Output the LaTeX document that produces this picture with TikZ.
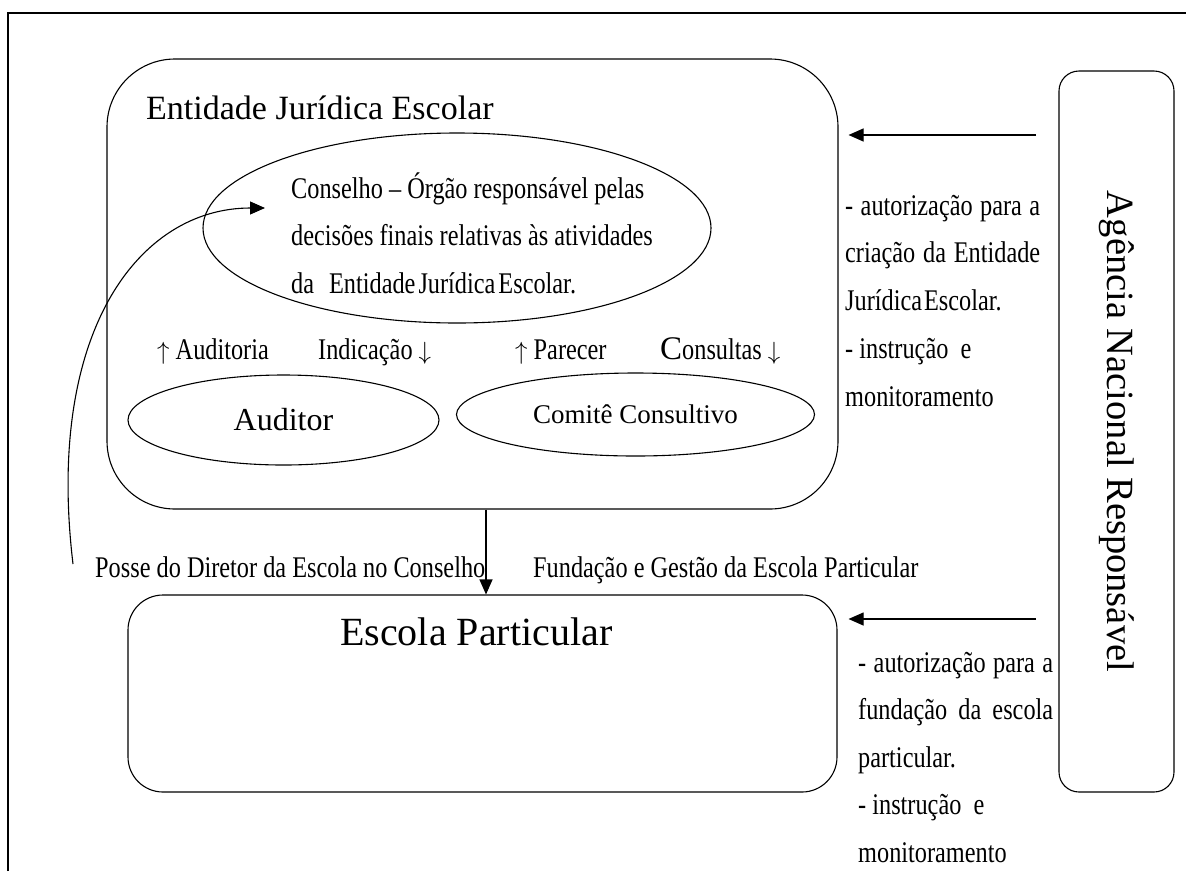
\documentclass[tikz,border=0pt]{standalone}
\usepackage{fontspec}
\setmainfont{Liberation Serif}
\newfontfamily\condfont[FakeStretch=0.81]{Liberation Serif}
\usetikzlibrary{shapes.geometric,arrows.meta}

\tikzset{
  box/.style={draw, line width=1.1pt, rounded corners=#1, inner sep=0pt},
  oval/.style={draw, ellipse, line width=1.1pt, inner sep=0pt},
  lbl/.style={anchor=base west, inner sep=0pt, font=\condfont\fontsize{30}{32}\selectfont},
  big/.style={inner sep=0pt, font=\fontsize{#1}{#1}\selectfont},
  arr/.style={-{Triangle[length=15pt,width=13pt]}, line width=1.1pt},
}

\begin{document}
\begin{tikzpicture}[x=1pt,y=-1pt]
\useasboundingbox (0,0) rectangle (1186,871);
\draw[line width=1.3pt] (8,871) |- (1186,13);

% upper block
\node[box=68pt, minimum width=731pt, minimum height=450pt] (entidade) at (472.5,284) {};
\node[big=34, anchor=base west] (entidadetit) at (146,119) {Entidade Jurídica Escolar};
\node[oval, minimum width=508pt, minimum height=190pt] (conselho) at (457,228) {};
\foreach \t [count=\i from 0] in {{Conselho – Órgão responsável pelas},
    {decisões finais relativas às atividades},
    {da\hspace{15pt}Entidade\hspace{3pt}Jurídica\hspace{3pt}Escolar.}}
  \node[lbl] (cons\i) at (291, 198+47.5*\i) {\t};

\node[lbl] (auditoria) at (157,359) {$\uparrow$ Auditoria};
\node[lbl] (indicacao) at (318,359) {Indicação $\downarrow$};
\node[lbl] (parecer) at (515,359) {$\uparrow$ Parecer};
\node[lbl] (consultas) at (660,359) {{\rmfamily\fontsize{33}{33}\selectfont C}onsultas $\downarrow$};
\node[oval, big=32, minimum width=311pt, minimum height=90pt] (auditor) at (283.5,420) {Auditor};
\node[oval, big=27, minimum width=358pt, minimum height=83pt] (comite) at (635.5,414.5) {Comitê Consultivo};

% lower block
\node[box=35pt, minimum width=709pt, minimum height=197pt] (escola) at (482.5,693.5) {};
\node[big=40, anchor=base west] (escolatit) at (340,645) {Escola Particular};
\node[lbl] (posse) at (95,577) {Posse do Diretor da Escola no Conselho};
\node[lbl] (fundacao) at (533,577) {Fundação e Gestão da Escola Particular};

% agency
\node[box=20pt, minimum width=115pt, minimum height=721pt] (agencia) at (1116.5,431.5) {};
\node[big=38.5, rotate=-90] (agenciatxt) at (agencia) {Agência Nacional Responsável};

\foreach \t [count=\i from 0] in {{\makebox[195pt][s]{- autorização para a}},
    {\makebox[195pt][s]{criação da Entidade}},
    {Jurídica\hspace{2pt}Escolar.}, {- instrução\ \ e}, {monitoramento}}
  \node[lbl] (autent\i) at (845, 215+47.8*\i) {\t};
\foreach \t [count=\i from 0] in {{\makebox[195pt][s]{- autorização para a}},
    {\makebox[195pt][s]{fundação da escola}},
    {particular.}, {- instrução\ \ e}, {monitoramento}}
  \node[lbl] (autesc\i) at (858, 672+47.5*\i) {\t};

% connectors
\coordinate (agtop) at (1036,135);
\coordinate (agbot) at (1036,619);
\coordinate (possestart) at (73,564);
\coordinate (consin) at (265,208);
\draw[arr, shorten >=10pt] (agtop) -- (agtop -| entidade.east);
\draw[arr, shorten >=11pt] (agbot) -- (agbot -| escola.east);
\draw[arr] ([xshift=13.5pt]entidade.south) -- ([xshift=13.5pt]entidade.south |- escola.north);
\draw[arr] (possestart) .. controls (45,330) and (140,208) .. (consin);
\end{tikzpicture}
\end{document}
